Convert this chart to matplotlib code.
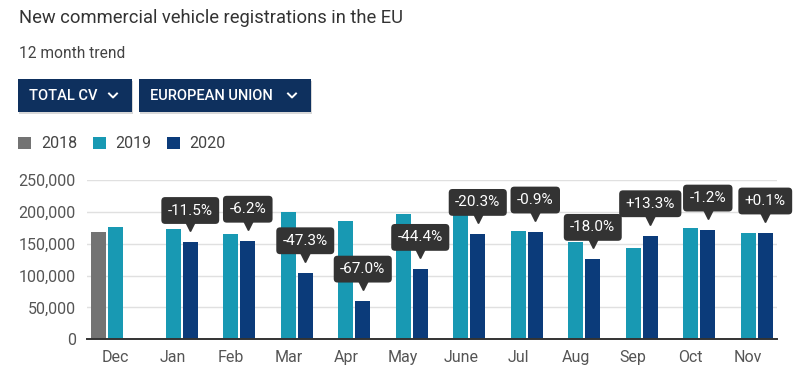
import matplotlib
matplotlib.use('Agg')
from matplotlib import pyplot as plt
from matplotlib.patches import Rectangle, Patch
from matplotlib.lines import Line2D
import matplotlib.ticker as ticker
import matplotlib.transforms as mtransforms
import numpy as np

plt.rcParams['font.family'] = ['Roboto', 'DejaVu Sans']

months = ['Dec', 'Jan', 'Feb', 'Mar', 'Apr', 'May', 'June', 'Jul', 'Aug', 'Sep', 'Oct', 'Nov']
v2018 = [168000]
v2019 = [177000, 173500, 164700, 200000, 186000, 196600, 206500, 170000, 153000, 143300, 175000, 166800]
v2020 = [None, 152000, 154000, 104500, 60000, 109800, 164700, 168400, 125500, 162600, 171500, 166900]
changes = [None, '-11.5%', '-6.2%', '-47.3%', '-67.0%', '-44.4%', '-20.3%', '-0.9%',
           '-18.0%', '+13.3%', '-1.2%', '+0.1%']

c2018 = '#737373'
c2019 = '#1899b3'
c2020 = '#0b3b7a'
cbtn = '#0e305e'
ctext = '#333333'

W, H = 800, 383
fig = plt.figure(figsize=(W / 100, H / 100), dpi=100)
fig.patch.set_facecolor('white')


def fx(px):
    return px / W


def fy(py):
    return 1 - py / H


ax = fig.add_axes([fx(87), fy(339.3), fx(777) - fx(87), fy(180) - fy(339.3)])

x = np.arange(len(months))
bw = 0.266
off = 0.296

ax.bar(x[:1] - off, v2018, width=bw, color=c2018, zorder=3)
ax.bar(x, v2019, width=bw, color=c2019, zorder=3)
x20 = [xi + off for xi, v in zip(x, v2020) if v is not None]
y20 = [v for v in v2020 if v is not None]
ax.bar(x20, y20, width=bw, color=c2020, zorder=3)

ax.set_xlim(-0.5, len(months) - 0.5)
ax.set_ylim(0, 250000)
ax.yaxis.set_major_locator(ticker.MultipleLocator(50000))
ax.yaxis.set_major_formatter(ticker.FuncFormatter(lambda v, p: f'{int(v):,}'))
ax.set_xticks(x)
ax.set_xticklabels(months)
ax.tick_params(axis='both', length=0, labelsize=11.5, colors='#555555')
ax.tick_params(axis='x', pad=8)
ax.tick_params(axis='y', pad=8)
ax.grid(axis='y', color='#e0e0e0', linewidth=1, zorder=0)
for s in ['top', 'right', 'left']:
    ax.spines[s].set_visible(False)
ax.spines['bottom'].set_color('#333333')
ax.spines['bottom'].set_linewidth(1.4)
ax.spines['bottom'].set_zorder(4)

# callout labels above 2020 bars
tip = mtransforms.offset_copy(ax.transData, fig=fig, x=0, y=17, units='dots')
for xi, v, lab in zip(x, v2020, changes):
    if v is None:
        continue
    ax.plot(xi + off, v, marker='v', markersize=9, color=ctext,
            transform=tip, zorder=5, clip_on=False)
    ax.annotate(lab, (xi + off, v), xytext=(0, 23), textcoords='offset points',
                ha='center', va='center', fontsize=11, color='white', zorder=6,
                bbox=dict(boxstyle='round,pad=0.42,rounding_size=0.25',
                          facecolor=ctext, edgecolor='none'),
                annotation_clip=False)

# header
fig.text(fx(19), fy(18), 'New commercial vehicle registrations in the EU',
         fontsize=13.2, color=ctext, va='center', ha='left')
fig.text(fx(19), fy(54), '12 month trend', fontsize=11.2, color='#444444',
         va='center', ha='left')

# dropdown buttons
buttons = [('TOTAL CV', 18, 132), ('EUROPEAN UNION', 139, 311)]
for lab, x0, x1 in buttons:
    fig.patches.append(Rectangle((fx(x0 + 1), fy(113.5)), fx(x1 - x0), fy(79) - fy(112),
                                 transform=fig.transFigure, facecolor='#d8d8d8',
                                 edgecolor='none', zorder=1))
    fig.patches.append(Rectangle((fx(x0), fy(112)), fx(x1 - x0), fy(79) - fy(112),
                                 transform=fig.transFigure, facecolor=cbtn,
                                 edgecolor='none', zorder=2))
    fig.text(fx(x0 + 11), fy(95.5), lab, fontsize=10.5, color='white',
             fontweight='medium', va='center', ha='left', zorder=3)
    cx = x1 - 19
    fig.lines.append(Line2D([fx(cx - 4), fx(cx), fx(cx + 4)], [fy(93.5), fy(97.5), fy(93.5)],
                            transform=fig.transFigure, color='white', linewidth=1.4,
                            zorder=3))

# legend
handles = [Patch(facecolor=c2018, edgecolor='none', label='2018'),
           Patch(facecolor=c2019, edgecolor='none', label='2019'),
           Patch(facecolor=c2020, edgecolor='none', label='2020')]
fig.legend(handles=handles, loc='center left', bbox_to_anchor=(fx(12), fy(144)),
           ncol=3, frameon=False, fontsize=11.5, handlelength=0.8, handleheight=0.8,
           handletextpad=0.6, columnspacing=1.0, labelcolor='#444444', borderaxespad=0)

fig.savefig('out.png', dpi=100)
